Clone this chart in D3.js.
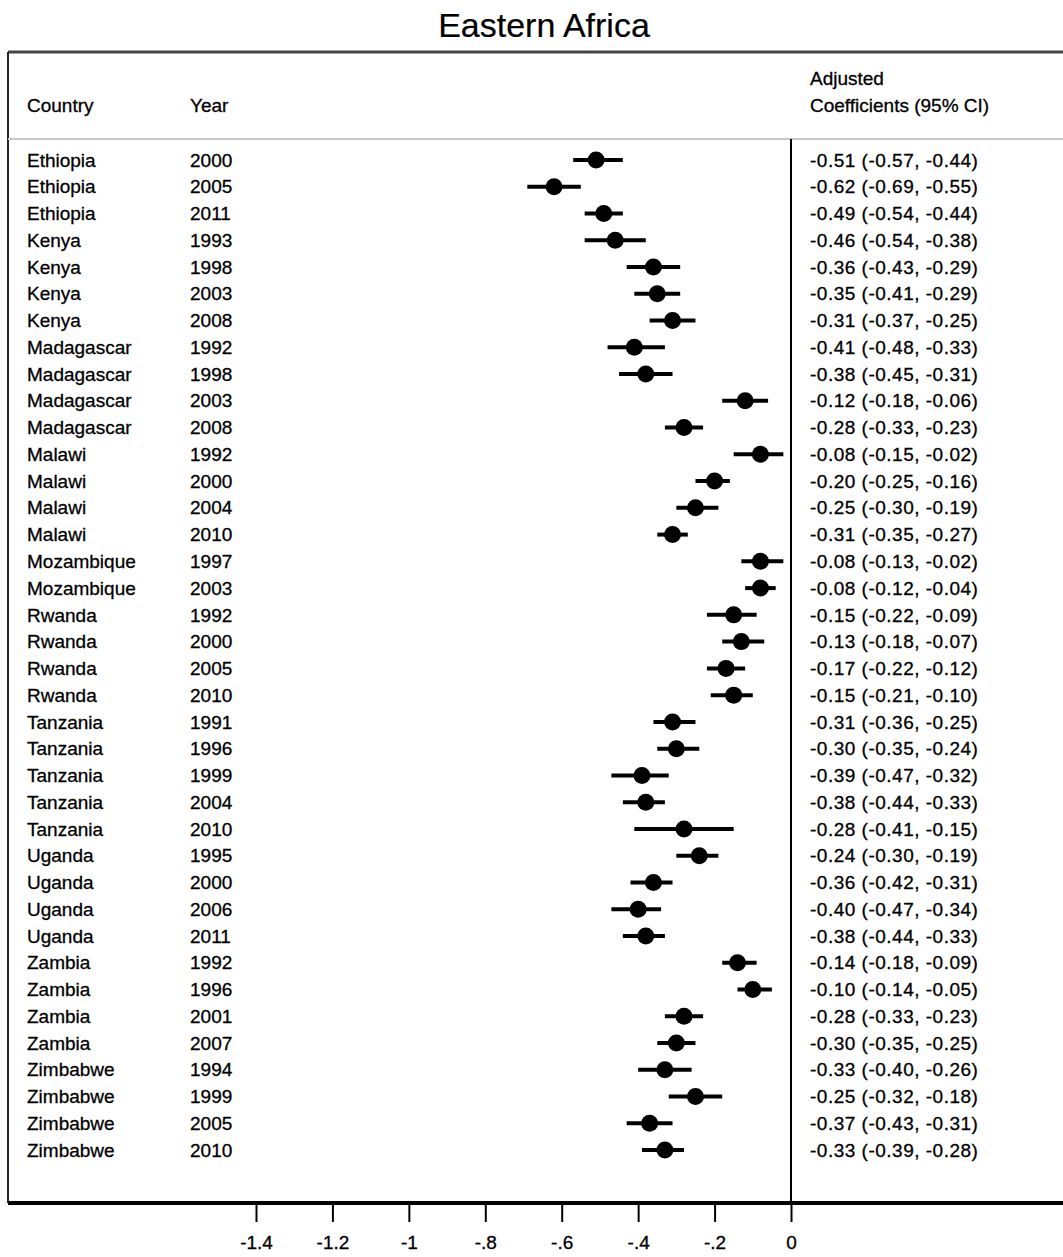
<!DOCTYPE html>
<html>
<head>
<meta charset="utf-8">
<script src="https://cdn.jsdelivr.net/npm/d3@7"></script>
<style>
  body { margin: 0; background: #fff; }
  svg text { font-family: "Liberation Sans", Arial, sans-serif; fill: #000; stroke: #000; stroke-width: 0.3px; }
</style>
</head>
<body>
<div id="chart"></div>
<script>
// data
var countries = ["Ethiopia","Ethiopia","Ethiopia","Kenya","Kenya","Kenya","Kenya",
  "Madagascar","Madagascar","Madagascar","Madagascar","Malawi","Malawi","Malawi","Malawi",
  "Mozambique","Mozambique","Rwanda","Rwanda","Rwanda","Rwanda",
  "Tanzania","Tanzania","Tanzania","Tanzania","Tanzania",
  "Uganda","Uganda","Uganda","Uganda","Zambia","Zambia","Zambia","Zambia",
  "Zimbabwe","Zimbabwe","Zimbabwe","Zimbabwe"];
var years = [2000,2005,2011,1993,1998,2003,2008,1992,1998,2003,2008,1992,2000,2004,2010,
  1997,2003,1992,2000,2005,2010,1991,1996,1999,2004,2010,1995,2000,2006,2011,
  1992,1996,2001,2007,1994,1999,2005,2010];
var coef = [-0.51,-0.62,-0.49,-0.46,-0.36,-0.35,-0.31,-0.41,-0.38,-0.12,-0.28,-0.08,-0.20,-0.25,-0.31,
  -0.08,-0.08,-0.15,-0.13,-0.17,-0.15,-0.31,-0.30,-0.39,-0.38,-0.28,-0.24,-0.36,-0.40,-0.38,
  -0.14,-0.10,-0.28,-0.30,-0.33,-0.25,-0.37,-0.33];
var lower = [-0.57,-0.69,-0.54,-0.54,-0.43,-0.41,-0.37,-0.48,-0.45,-0.18,-0.33,-0.15,-0.25,-0.30,-0.35,
  -0.13,-0.12,-0.22,-0.18,-0.22,-0.21,-0.36,-0.35,-0.47,-0.44,-0.41,-0.30,-0.42,-0.47,-0.44,
  -0.18,-0.14,-0.33,-0.35,-0.40,-0.32,-0.43,-0.39];
var upper = [-0.44,-0.55,-0.44,-0.38,-0.29,-0.29,-0.25,-0.33,-0.31,-0.06,-0.23,-0.02,-0.16,-0.19,-0.27,
  -0.02,-0.04,-0.09,-0.07,-0.12,-0.10,-0.25,-0.24,-0.32,-0.33,-0.15,-0.19,-0.31,-0.34,-0.33,
  -0.09,-0.05,-0.23,-0.25,-0.26,-0.18,-0.31,-0.28];
var tickValues = [-1.4,-1.2,-1,-0.8,-0.6,-0.4,-0.2,0];
var tickLabels = ["-1.4","-1.2","-1","-.8","-.6","-.4","-.2","0"];

const width = 1063, height = 1257;
const fs = 19;

var rows = countries.map(function (c, i) {
    return { country: c, year: years[i], est: coef[i], lo: lower[i], hi: upper[i] };
});

var svg = d3.select("#chart").append("svg")
    .attr("width", width)
    .attr("height", height);

var x = d3.scaleLinear().domain([-1.4, 0]).range([256, 791]);
var y = d3.scalePoint().domain(d3.range(rows.length)).range([160, 1150]);

function fmt(v) { return v.toFixed(2); }

// title
svg.append("text")
    .attr("x", 544).attr("y", 37)
    .attr("text-anchor", "middle")
    .style("font-size", "34px")
    .style("stroke-width", "0.2px")
    .text("Eastern Africa");

// frame
svg.append("line").attr("x1", 8).attr("x2", width).attr("y1", 52).attr("y2", 52)
    .attr("stroke", "#444").attr("stroke-width", 3);
svg.append("line").attr("x1", 8).attr("x2", 8).attr("y1", 52).attr("y2", 1203)
    .attr("stroke", "#222").attr("stroke-width", 2);
svg.append("line").attr("x1", 8).attr("x2", width).attr("y1", 139).attr("y2", 139)
    .attr("stroke", "#c8c8c8").attr("stroke-width", 2);

// header
svg.append("text").attr("x", 27).attr("y", 112).style("font-size", fs + "px").text("Country");
svg.append("text").attr("x", 190).attr("y", 112).style("font-size", fs + "px").text("Year");
svg.append("text").attr("x", 810).attr("y", 85).style("font-size", fs + "px").text("Adjusted");
svg.append("text").attr("x", 810).attr("y", 112).style("font-size", fs + "px").text("Coefficients (95% CI)");

// zero line
svg.append("line")
    .attr("x1", x(0)).attr("x2", x(0))
    .attr("y1", 139).attr("y2", 1203)
    .attr("stroke", "#000").attr("stroke-width", 2);

// x axis at bottom
var axis = d3.axisBottom(x)
    .tickValues(tickValues)
    .tickSize(19)
    .tickPadding(14)
    .tickFormat(function (d, i) { return tickLabels[i]; });

var gx = svg.append("g")
    .attr("transform", "translate(0,1203)")
    .call(axis);
gx.select(".domain").remove();
gx.selectAll(".tick line").attr("stroke", "#000").attr("stroke-width", 2);
gx.selectAll(".tick text")
    .attr("font-family", null)
    .attr("font-size", null)
    .style("font-size", fs + "px");

svg.append("line").attr("x1", 8).attr("x2", width).attr("y1", 1203).attr("y2", 1203)
    .attr("stroke", "#000").attr("stroke-width", 4);

// rows
var row = svg.append("g").selectAll("g.row")
    .data(rows)
    .enter().append("g")
    .attr("class", "row")
    .attr("transform", function (d, i) { return "translate(0," + y(i) + ")"; });

row.append("text").attr("x", 27).attr("dy", "0.35em").style("font-size", fs + "px")
    .text(function (d) { return d.country; });
row.append("text").attr("x", 190).attr("dy", "0.35em").style("font-size", fs + "px")
    .text(function (d) { return d.year; });
row.append("text").attr("x", 810).attr("dy", "0.35em").style("font-size", fs + "px")
    .style("letter-spacing", "0.5px")
    .text(function (d) { return fmt(d.est) + " (" + fmt(d.lo) + ", " + fmt(d.hi) + ")"; });

row.append("line")
    .attr("x1", function (d) { return x(d.lo); })
    .attr("x2", function (d) { return x(d.hi); })
    .attr("stroke", "#000").attr("stroke-width", 4);
row.append("circle")
    .attr("cx", function (d) { return x(d.est); })
    .attr("r", 8.5)
    .attr("fill", "#000");
</script>
</body>
</html>
